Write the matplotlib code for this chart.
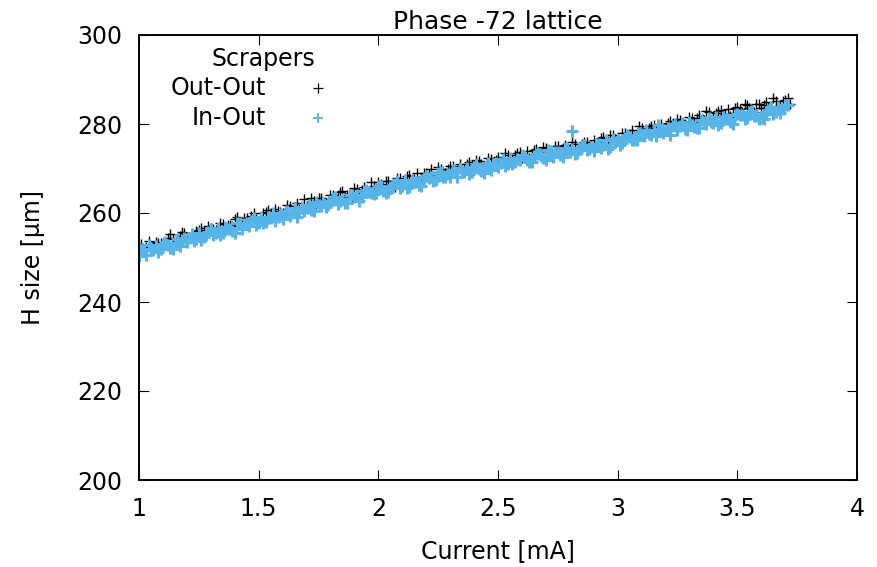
import matplotlib
matplotlib.use("Agg")
import matplotlib.pyplot as plt
from matplotlib.lines import Line2D

# Beam size vs. stored current, two scraper configurations
out_out_current = [
    1.00, 1.02, 1.04, 1.06, 1.08, 1.10, 1.12, 1.14, 1.16, 1.18,
    1.20, 1.22, 1.24, 1.26, 1.28, 1.30, 1.32, 1.34, 1.36, 1.38,
    1.40, 1.42, 1.44, 1.46, 1.48, 1.50, 1.52, 1.54, 1.56, 1.58,
    1.60, 1.62, 1.64, 1.66, 1.68, 1.70, 1.72, 1.74, 1.76, 1.78,
    1.80, 1.82, 1.84, 1.86, 1.88, 1.90, 1.92, 1.94, 1.96, 1.98,
    2.00, 2.02, 2.04, 2.06, 2.08, 2.10, 2.12, 2.14, 2.16, 2.18,
    2.20, 2.22, 2.24, 2.26, 2.28, 2.30, 2.32, 2.34, 2.36, 2.38,
    2.40, 2.42, 2.44, 2.46, 2.48, 2.50, 2.52, 2.54, 2.56, 2.58,
    2.60, 2.62, 2.64, 2.66, 2.68, 2.70, 2.72, 2.74, 2.76, 2.78,
    2.80, 2.82, 2.84, 2.86, 2.88, 2.90, 2.92, 2.94, 2.96, 2.98,
    3.00, 3.02, 3.04, 3.06, 3.08, 3.10, 3.12, 3.14, 3.16, 3.18,
    3.20, 3.22, 3.24, 3.26, 3.28, 3.30, 3.32, 3.34, 3.36, 3.38,
    3.40, 3.42, 3.44, 3.46, 3.48, 3.50, 3.52, 3.54, 3.56, 3.58,
    3.60, 3.62, 3.64, 3.66, 3.68, 3.70, 3.72,
    1.01, 1.03, 1.05, 1.07, 1.09, 1.11, 1.13, 1.15, 1.17, 1.19,
    1.21, 1.23, 1.25, 1.27, 1.29, 1.31, 1.33, 1.35, 1.37, 1.39,
    1.41, 1.43, 1.45, 1.47, 1.49, 1.51, 1.53, 1.55, 1.57, 1.59,
    1.61, 1.63, 1.65, 1.67, 1.69, 1.71, 1.73, 1.75, 1.77, 1.79,
    1.81, 1.83, 1.85, 1.87, 1.89, 1.91, 1.93, 1.95, 1.97, 1.99,
    2.01, 2.03, 2.05, 2.07, 2.09, 2.11, 2.13, 2.15, 2.17, 2.19,
    2.21, 2.23, 2.25, 2.27, 2.29, 2.31, 2.33, 2.35, 2.37, 2.39,
    2.41, 2.43, 2.45, 2.47, 2.49, 2.51, 2.53, 2.55, 2.57, 2.59,
    2.61, 2.63, 2.65, 2.67, 2.69, 2.71, 2.73, 2.75, 2.77, 2.79,
    2.81, 2.83, 2.85, 2.87, 2.89, 2.91, 2.93, 2.95, 2.97, 2.99,
    3.01, 3.03, 3.05, 3.07, 3.09, 3.11, 3.13, 3.15, 3.17, 3.19,
    3.21, 3.23, 3.25, 3.27, 3.29, 3.31, 3.33, 3.35, 3.37, 3.39,
    3.41, 3.43, 3.45, 3.47, 3.49, 3.51, 3.53, 3.55, 3.57, 3.59,
    3.61, 3.63, 3.65, 3.67, 3.69, 3.71,
]
out_out_size = [
    252.4, 251.4, 253.6, 252.5, 253.3, 252.3, 254.4, 254.1, 253.7, 255.8,
    254.7, 254.4, 256.0, 256.6, 255.0, 256.6, 256.2, 257.7, 256.5, 257.4,
    258.6, 257.2, 258.9, 258.3, 259.9, 258.3, 259.9, 260.6, 259.3, 260.5,
    260.1, 261.7, 260.4, 262.3, 261.0, 261.6, 263.3, 262.0, 263.4, 262.3,
    264.1, 263.1, 264.7, 263.6, 264.3, 265.7, 264.2, 265.9, 264.8, 266.1,
    266.9, 265.6, 267.3, 266.4, 267.9, 266.6, 268.3, 267.4, 269.0, 267.8,
    268.9, 269.8, 268.4, 269.9, 269.0, 270.5, 269.3, 270.9, 270.0, 271.5,
    270.4, 271.6, 270.6, 272.3, 271.2, 272.6, 271.6, 273.1, 272.0, 273.5,
    272.4, 273.9, 273.0, 274.3, 273.1, 274.7, 273.7, 275.1, 274.0, 275.2,
    274.4, 275.6, 274.3, 275.9, 274.3, 276.5, 275.4, 277.0, 275.9, 277.5,
    276.4, 278.0, 276.9, 278.6, 277.4, 279.0, 277.9, 279.5, 278.5, 280.0,
    279.0, 280.6, 279.5, 281.0, 280.0, 281.6, 280.4, 282.1, 280.9, 282.6,
    281.5, 282.9, 281.9, 283.4, 282.4, 283.9, 282.8, 284.3, 283.2, 284.6,
    283.5, 284.9, 283.9, 285.2, 284.2, 285.5, 284.6,
    253.1, 252.3, 251.6, 253.5, 253.3, 252.9, 255.2, 253.3, 254.8, 255.5,
    254.6, 254.4, 256.2, 255.9, 257.1, 256.3, 255.7, 257.6, 257.4, 257.0,
    259.2, 257.3, 258.8, 259.4, 258.6, 258.3, 260.2, 259.9, 261.0, 260.2,
    259.6, 261.5, 261.4, 260.9, 263.1, 261.2, 262.7, 263.4, 262.5, 262.2,
    264.1, 263.7, 264.9, 264.1, 263.4, 265.3, 265.2, 264.8, 266.9, 265.0,
    266.5, 267.1, 266.3, 265.9, 267.8, 267.4, 268.6, 267.7, 267.1, 268.9,
    268.7, 268.3, 270.4, 268.5, 269.9, 270.5, 269.6, 269.3, 271.1, 270.7,
    271.8, 270.9, 270.3, 272.1, 271.9, 271.4, 273.5, 271.6, 273.0, 273.6,
    272.7, 272.3, 274.1, 273.7, 274.8, 273.9, 273.2, 275.0, 274.7, 274.2,
    275.9, 274.2, 275.5, 276.0, 275.3, 274.9, 276.8, 276.4, 277.6, 276.7,
    276.1, 277.9, 277.8, 277.3, 279.5, 277.6, 279.0, 279.7, 278.8, 278.5,
    280.3, 280.0, 281.1, 280.3, 279.6, 281.4, 281.3, 280.8, 283.0, 281.0,
    282.4, 283.1, 282.2, 281.9, 283.7, 283.3, 284.4, 283.5, 282.7, 284.5,
    284.3, 283.8, 285.9, 283.8, 285.2, 285.8,
]

in_out_current = [
    0.99, 1.01, 1.03, 1.05, 1.07, 1.09, 1.11, 1.13, 1.15, 1.17,
    1.19, 1.21, 1.23, 1.25, 1.27, 1.29, 1.31, 1.33, 1.35, 1.37,
    1.39, 1.41, 1.43, 1.45, 1.47, 1.49, 1.51, 1.53, 1.55, 1.57,
    1.59, 1.61, 1.63, 1.65, 1.67, 1.69, 1.71, 1.73, 1.75, 1.77,
    1.79, 1.81, 1.83, 1.85, 1.87, 1.89, 1.91, 1.93, 1.95, 1.97,
    1.99, 2.01, 2.03, 2.05, 2.07, 2.09, 2.11, 2.13, 2.15, 2.17,
    2.19, 2.21, 2.23, 2.25, 2.27, 2.29, 2.31, 2.33, 2.35, 2.37,
    2.39, 2.41, 2.43, 2.45, 2.47, 2.49, 2.51, 2.53, 2.55, 2.57,
    2.59, 2.61, 2.63, 2.65, 2.67, 2.69, 2.71, 2.73, 2.75, 2.77,
    2.79, 2.81, 2.83, 2.85, 2.87, 2.89, 2.91, 2.93, 2.95, 2.97,
    2.99, 3.01, 3.03, 3.05, 3.07, 3.09, 3.11, 3.13, 3.15, 3.17,
    3.19, 3.21, 3.23, 3.25, 3.27, 3.29, 3.31, 3.33, 3.35, 3.37,
    3.39, 3.41, 3.43, 3.45, 3.47, 3.49, 3.51, 3.53, 3.55, 3.57,
    3.59, 3.61, 3.63, 3.65, 3.67, 3.69, 3.71, 2.81,
    1.00, 1.02, 1.04, 1.06, 1.08, 1.10, 1.12, 1.14, 1.16, 1.18,
    1.20, 1.22, 1.24, 1.26, 1.28, 1.30, 1.32, 1.34, 1.36, 1.38,
    1.40, 1.42, 1.44, 1.46, 1.48, 1.50, 1.52, 1.54, 1.56, 1.58,
    1.60, 1.62, 1.64, 1.66, 1.68, 1.70, 1.72, 1.74, 1.76, 1.78,
    1.80, 1.82, 1.84, 1.86, 1.88, 1.90, 1.92, 1.94, 1.96, 1.98,
    2.00, 2.02, 2.04, 2.06, 2.08, 2.10, 2.12, 2.14, 2.16, 2.18,
    2.20, 2.22, 2.24, 2.26, 2.28, 2.30, 2.32, 2.34, 2.36, 2.38,
    2.40, 2.42, 2.44, 2.46, 2.48, 2.50, 2.52, 2.54, 2.56, 2.58,
    2.60, 2.62, 2.64, 2.66, 2.68, 2.70, 2.72, 2.74, 2.76, 2.78,
    2.80, 2.82, 2.84, 2.86, 2.88, 2.90, 2.92, 2.94, 2.96, 2.98,
    3.00, 3.02, 3.04, 3.06, 3.08, 3.10, 3.12, 3.14, 3.16, 3.18,
    3.20, 3.22, 3.24, 3.26, 3.28, 3.30, 3.32, 3.34, 3.36, 3.38,
    3.40, 3.42, 3.44, 3.46, 3.48, 3.50, 3.52, 3.54, 3.56, 3.58,
    3.60, 3.62, 3.64, 3.66, 3.68, 3.70,
]
in_out_size = [
    250.6, 252.0, 250.6, 251.9, 252.6, 251.8, 253.5, 252.2, 253.3, 252.5,
    254.3, 254.3, 253.8, 255.5, 254.7, 255.8, 255.0, 256.7, 255.4, 256.5,
    256.0, 257.7, 256.3, 257.7, 258.3, 257.4, 259.2, 257.9, 258.9, 258.1,
    259.8, 260.0, 259.4, 261.1, 260.3, 260.4, 261.9, 260.4, 261.9, 262.5,
    261.7, 263.4, 262.0, 263.1, 262.2, 264.0, 264.1, 263.5, 265.2, 264.4,
    264.5, 266.0, 264.5, 265.9, 266.5, 265.6, 267.4, 265.9, 267.0, 266.2,
    267.9, 267.9, 267.2, 269.0, 268.1, 268.7, 269.6, 268.1, 269.5, 270.1,
    269.2, 270.9, 269.4, 270.5, 269.6, 271.3, 271.3, 270.6, 272.3, 271.5,
    272.0, 272.9, 271.4, 272.7, 273.3, 272.4, 274.1, 272.6, 273.6, 272.6,
    274.3, 274.3, 273.5, 275.0, 274.1, 274.8, 275.5, 274.6, 276.4, 274.9,
    276.0, 275.2, 276.9, 277.0, 276.3, 278.0, 277.2, 277.8, 278.6, 279.8,
    277.9, 279.1, 279.5, 278.6, 280.3, 278.7, 279.7, 279.1, 280.9, 279.9,
    280.5, 281.6, 280.2, 281.1, 280.5, 282.0, 282.1, 281.2, 282.7, 281.8,
    281.2, 281.1, 283.2, 282.3, 283.9, 283.3, 284.3, 278.4,
    250.3, 251.7, 252.7, 251.6, 251.2, 253.0, 252.7, 251.8, 254.1, 253.9,
    253.4, 255.2, 254.2, 254.0, 255.4, 256.4, 255.4, 255.0, 256.8, 256.4,
    255.5, 257.8, 257.6, 257.1, 258.8, 257.8, 257.7, 259.1, 260.1, 259.0,
    258.6, 260.4, 260.1, 259.2, 261.4, 261.2, 260.7, 262.5, 261.5, 261.3,
    262.7, 263.7, 262.6, 262.2, 264.0, 263.6, 262.7, 265.0, 264.8, 264.2,
    266.0, 265.0, 264.8, 266.2, 267.1, 266.1, 265.6, 267.4, 267.0, 266.1,
    268.3, 268.0, 267.5, 269.2, 268.2, 268.0, 269.3, 270.2, 269.2, 268.7,
    270.4, 270.0, 269.0, 271.3, 271.0, 270.4, 272.1, 271.0, 270.9, 272.2,
    273.1, 272.0, 271.5, 273.2, 272.8, 271.8, 274.0, 273.7, 273.0, 274.7,
    273.6, 273.3, 274.5, 275.3, 274.3, 273.9, 275.6, 275.3, 274.3, 276.6,
    276.3, 275.8, 277.5, 276.5, 276.3, 277.7, 278.7, 277.6, 277.2, 278.9,
    278.6, 277.6, 279.9, 279.5, 278.9, 280.5, 279.3, 279.2, 280.5, 281.4,
    280.3, 279.7, 281.5, 281.1, 280.1, 282.3, 282.0, 281.4, 282.9, 281.7,
    281.4, 282.7, 283.8, 282.8, 282.5, 284.3,
]

series_labels = ["Out-Out", "In-Out"]
series_colors = ["#000000", "#56b4e9"]
legend_title = "Scrapers"
x_ticks = [1, 1.5, 2, 2.5, 3, 3.5, 4]
x_tick_labels = ["1", "1.5", "2", "2.5", "3", "3.5", "4"]
y_ticks = [200, 220, 240, 260, 280, 300]

plt.rcParams["font.family"] = ["DejaVu Sans"]
FS = 17

fig = plt.figure(figsize=(8.78, 5.67), dpi=100)
ax = fig.add_axes([139 / 878, 1 - 480 / 567, 718 / 878, 445 / 567])

ax.plot(out_out_current, out_out_size, linestyle="none", marker="+",
        ms=7.5, mew=1.0, color=series_colors[0])
ax.plot(in_out_current, in_out_size, linestyle="none", marker="+",
        ms=8.5, mew=2.2, color=series_colors[1])

ax.set_xlim(1, 4)
ax.set_ylim(200, 300)
ax.set_xticks(x_ticks)
ax.set_xticklabels(x_tick_labels)
ax.set_yticks(y_ticks)
ax.tick_params(direction="in", top=True, right=True, length=7, width=0.8,
               labelsize=FS, pad=12)
for s in ax.spines.values():
    s.set_linewidth(1.4)

ax.set_title("Phase -72 lattice", fontsize=18, pad=4)
ax.set_xlabel("Current [mA]", fontsize=FS, labelpad=13)
ax.set_ylabel("H size [µm]", fontsize=FS, labelpad=23)

# key: right-aligned labels with the sample to their right
ax.text(0.1727, 0.946, legend_title, transform=ax.transAxes, ha="center",
        va="center", fontsize=FS)
key_y = [0.881, 0.8135]
key_ms = [7, 7]
key_mew = [0.9, 1.3]
for lab, col, yy, ms, mew in zip(series_labels, series_colors, key_y, key_ms, key_mew):
    ax.text(0.1769, yy, lab, transform=ax.transAxes, ha="right", va="center",
            fontsize=FS)
    ax.add_line(Line2D([0.2493], [yy], transform=ax.transAxes, marker="+",
                       ms=ms, mew=mew, color=col, linestyle="none"))

fig.savefig("out.png", dpi=100)
